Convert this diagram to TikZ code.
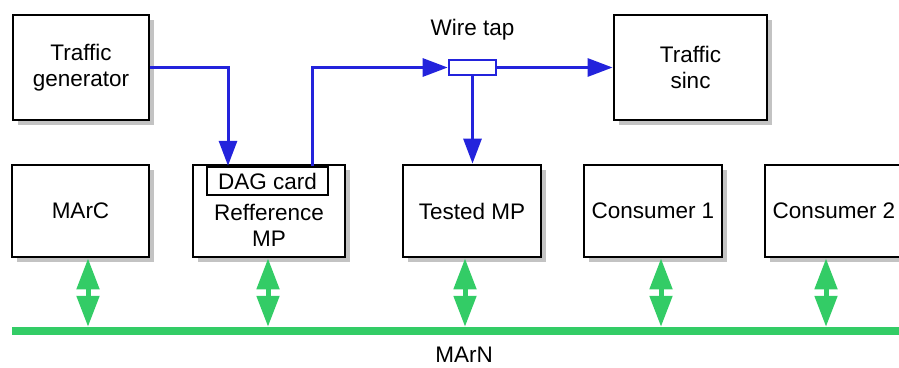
\documentclass[tikz,border=0pt]{standalone}
\usepackage{fontspec}
\setmainfont{Liberation Sans}
\usetikzlibrary{arrows.meta,shadows}
\definecolor{linkblue}{RGB}{35,35,220}
\definecolor{busgreen}{RGB}{51,204,102}
\definecolor{shade}{RGB}{195,195,195}
\begin{document}
\begin{tikzpicture}[x=1pt,y=-1pt,
  font=\fontsize{22.5}{26}\selectfont,
  unit/.style={draw=black,line width=2.8pt,fill=white,align=center,
    inner sep=0pt,minimum height=92pt,minimum width=138pt,
    drop shadow={shadow xshift=5pt,shadow yshift=-5pt,fill=shade,opacity=1}},
  card/.style={draw=black,line width=2.4pt,fill=white,inner sep=0pt,
    minimum width=121pt,minimum height=28pt},
  tapbox/.style={draw=linkblue,line width=2.6pt,fill=white,inner sep=0pt,
    minimum width=47pt,minimum height=15pt},
  link/.style={draw=linkblue,line width=3pt,
    -{Triangle[width=18pt,length=25pt]}},
  netlink/.style={draw=busgreen,line width=5pt,
    {Triangle[width=22pt,length=31pt]}-{Triangle[width=22pt,length=31pt]}},
  label/.style={inner sep=0pt,align=center}]
\useasboundingbox (0,0) rectangle (899,367);

% top row
\node[unit,minimum width=136pt,minimum height=105pt] (tg) at (81,67.5) {Traffic\\generator};
\node[unit,minimum width=153pt,minimum height=105pt] (ts) at (690.5,67.5) {Traffic\\sinc};

% measurement network nodes
\node[unit,minimum width=137pt] (marc) at (80.5,211) {MArC};
\node[unit,minimum width=152pt] (ref) at (269,211) {};
\node[card] (dag) at (267.5,181) {DAG card};
\node[label] (reftext) at (269,225) {Refference\\MP};
\node[unit] (tested) at (472,211) {Tested MP};
\node[unit] (cons1) at (653,211) {Consumer 1};
\node[unit] (cons2) at (834,211) {Consumer 2};

% wire tap
\node[tapbox] (tap) at (472.5,67.5) {};
\node[label] (taplabel) at (472.5,30) {Wire tap};

% traffic path
\draw[link] (tg.east) -| ([xshift=-39.5pt]dag.north);
\draw[link] ([xshift=44.5pt]dag.north) |- (tap.west);
\draw[link] (tap.east) -- (ts.west);
\draw[link] (tap.south) -- (tap.south |- tested.north);

% MArN bus
\node[fill=busgreen,inner sep=0pt,minimum width=887pt,minimum height=8pt] (bus) at (455.5,331) {};
\node[label] (buslabel) at (464,355) {MArN};

\draw[netlink] ([xshift=7.5pt]marc.south) -- ([xshift=7.5pt]marc.south |- bus.north);
\draw[netlink] ([xshift=-1pt]ref.south) -- ([xshift=-1pt]ref.south |- bus.north);
\draw[netlink] ([xshift=-7pt]tested.south) -- ([xshift=-7pt]tested.south |- bus.north);
\draw[netlink] ([xshift=8pt]cons1.south) -- ([xshift=8pt]cons1.south |- bus.north);
\draw[netlink] ([xshift=-8pt]cons2.south) -- ([xshift=-8pt]cons2.south |- bus.north);
\end{tikzpicture}
\end{document}
